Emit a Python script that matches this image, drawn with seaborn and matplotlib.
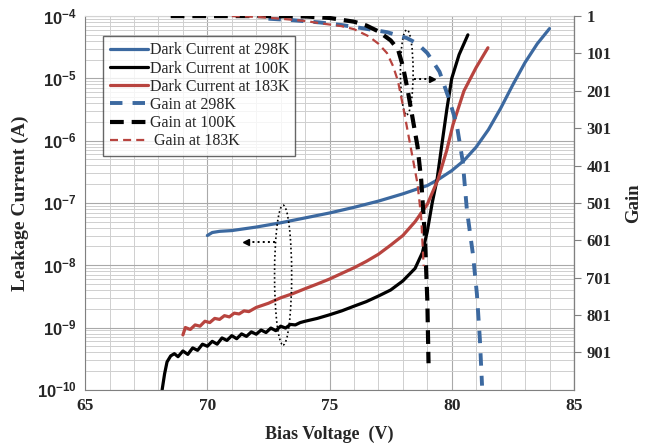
import numpy as np
import pandas as pd
import matplotlib
matplotlib.use('Agg')
import matplotlib.pyplot as plt
import seaborn as sns
from matplotlib.patches import Ellipse
from matplotlib.ticker import MultipleLocator, LogLocator, FixedLocator, FuncFormatter, NullFormatter

# Dark current (A) vs bias voltage (V)
v_298 = [70.0, 70.2, 70.5, 71, 72, 73, 74, 75, 76, 77, 78, 79, 79.5, 80, 80.5, 81, 81.5, 82, 82.5, 83, 83.5, 84]
i_298 = [3.0e-8, 3.35e-8, 3.5e-8, 3.6e-8, 4.1e-8, 4.8e-8, 5.75e-8, 6.9e-8, 8.5e-8, 1.07e-7, 1.4e-7, 1.9e-7,
         2.45e-7, 3.3e-7, 4.8e-7, 7.9e-7, 1.5e-6, 3.3e-6, 7.9e-6, 1.8e-5, 3.6e-5, 6.3e-5]

v_100 = [68.15, 68.25, 68.35, 68.5, 68.65, 68.8, 69.0, 69.2, 69.4, 69.6, 69.8, 70.0, 70.2, 70.4, 70.6, 70.8,
         71.0, 71.2, 71.4, 71.6, 71.8, 72.0, 72.2, 72.4, 72.6, 72.8, 73.0, 73.2, 73.4, 73.6, 73.8, 74.0,
         74.5, 75.0, 75.5, 76.0, 76.5, 77.0, 77.5, 78.0, 78.5, 78.8, 79.0, 79.2, 79.4, 79.6, 79.8, 80.0,
         80.3, 80.66]
i_100 = [1.0e-10, 1.8e-10, 2.8e-10, 3.5e-10, 3.8e-10, 3.4e-10, 4.2e-10, 3.7e-10, 4.7e-10, 4.3e-10, 5.4e-10,
         5.0e-10, 6.0e-10, 5.4e-10, 6.8e-10, 6.2e-10, 7.4e-10, 6.6e-10, 7.9e-10, 7.2e-10, 8.5e-10, 7.8e-10,
         9.1e-10, 8.3e-10, 9.8e-10, 8.9e-10, 1.05e-9, 9.8e-10, 1.12e-9, 1.1e-9, 1.2e-9, 1.26e-9, 1.4e-9,
         1.6e-9, 1.85e-9, 2.2e-9, 2.6e-9, 3.2e-9, 4.0e-9, 5.6e-9, 8.9e-9, 1.6e-8, 3.5e-8, 1.0e-7, 2.4e-7,
         8.9e-7, 3.2e-6, 1.0e-5, 2.4e-5, 5.0e-5]

v_183 = [69.0, 69.1, 69.3, 69.5, 69.7, 69.9, 70.1, 70.3, 70.5, 70.7, 70.9, 71.1, 71.3, 71.5, 71.7, 72.0,
         72.5, 73.0, 73.5, 74.0, 74.5, 75.0, 75.5, 76.0, 76.5, 77.0, 77.5, 78.0, 78.5, 79.0, 79.44, 79.8,
         80.05, 80.5, 81.0, 81.48]
i_183 = [7.6e-10, 1.0e-9, 9.3e-10, 1.1e-9, 1.05e-9, 1.26e-9, 1.2e-9, 1.4e-9, 1.35e-9, 1.55e-9, 1.48e-9,
         1.7e-9, 1.65e-9, 1.85e-9, 1.8e-9, 2.1e-9, 2.45e-9, 3.0e-9, 3.5e-9, 4.2e-9, 5.0e-9, 6.0e-9, 7.4e-9,
         9.1e-9, 1.15e-8, 1.5e-8, 2.1e-8, 3.0e-8, 5.0e-8, 9.5e-8, 2.4e-7, 7.1e-7, 1.8e-6, 6.3e-6, 1.5e-5,
         3.1e-5]

# Gain vs bias voltage
gv_298 = [72.5, 73.5, 74.6, 75.5, 76.5, 77.35, 78.17, 78.6, 79.0, 79.5, 79.9, 80.2, 80.45, 80.62, 80.87,
          81.03, 81.15, 81.24]
g_298 = [8, 12, 18, 25, 35, 44, 60, 75, 100, 150, 225, 290, 390, 520, 640, 745, 865, 990]

gv_100 = [68.5, 70, 72, 74, 75, 76, 76.5, 77, 77.5, 77.8, 78.0, 78.2, 78.4, 78.6, 78.75, 78.9, 79.0, 79.05]
g_100 = [1, 1, 1, 2, 6, 16, 26, 42, 66, 90, 135, 200, 275, 350, 440, 590, 760, 930]

gv_183 = [71, 72, 73, 74, 74.6, 75.5, 76, 76.6, 77, 77.35, 77.6, 77.8, 78.0, 78.2, 78.4, 78.6, 78.75, 78.85]
g_183 = [1, 3, 8, 14, 20, 28, 36, 55, 75, 100, 135, 175, 240, 310, 380, 450, 540, 670]

labels = ['Dark Current at 298K', 'Dark Current at 100K', 'Dark Current at 183K',
          'Gain at 298K', 'Gain at 100K', ' Gain at 183K']
gain_ticks = [1, 101, 201, 301, 401, 501, 601, 701, 801, 901]

BLUE = '#3c69a0'
RED = '#b8443f'

sns.set_style('white')
plt.rcParams['font.family'] = ['Liberation Serif', 'DejaVu Serif']
plt.rcParams['mathtext.fontset'] = 'custom'
plt.rcParams['mathtext.rm'] = 'Liberation Sans:bold'
plt.rcParams['mathtext.bf'] = 'Liberation Sans:bold'
plt.rcParams['mathtext.it'] = 'Liberation Sans:bold'

fig = plt.figure(figsize=(6.5, 4.47), dpi=100)
ax = fig.add_axes([0.131, 0.128, 0.752, 0.836])
ax2 = ax.twinx()

# dark current, left axis
for v, i, c, lab in [(v_298, i_298, BLUE, labels[0]), (v_100, i_100, 'black', labels[1]),
                     (v_183, i_183, RED, labels[2])]:
    df = pd.DataFrame({'V': v, 'I': i})
    sns.lineplot(data=df, x='V', y='I', ax=ax, color=c, lw=2.3, sort=False, estimator=None,
                 label=lab, legend=False)

# gain, right axis
for v, g, c, lw, dash, lab in [(gv_298, g_298, BLUE, 2.8, (3.2, 2.6), labels[3]),
                               (gv_100, g_100, 'black', 3.0, (3.3, 1.9), labels[4]),
                               (gv_183, g_183, RED, 1.6, (3.6, 2.3), labels[5])]:
    df = pd.DataFrame({'V': v, 'G': g})
    sns.lineplot(data=df, x='V', y='G', ax=ax2, color=c, lw=lw, sort=False, estimator=None,
                 label=lab, legend=False, linestyle=(0, dash))

ax.set_yscale('log')
ax.set_xlim(65, 85)
ax.set_ylim(1e-10, 1e-4)
ax2.set_ylim(1001, 1)

ax.xaxis.set_major_locator(MultipleLocator(5))
ax.xaxis.set_minor_locator(MultipleLocator(1))
ax.yaxis.set_major_locator(LogLocator(base=10, numticks=10))
ax.yaxis.set_minor_locator(LogLocator(base=10, subs=np.arange(2, 10), numticks=20))
ax.yaxis.set_minor_formatter(NullFormatter())
ax.yaxis.set_major_formatter(FuncFormatter(lambda y, p: r'$10^{%d}$' % round(np.log10(y))))

ax.grid(which='major', color='#a9a9a9', lw=0.8)
ax.grid(which='minor', color='#cfcfcf', lw=0.7)
ax.set_axisbelow(True)

ax2.yaxis.set_major_locator(FixedLocator(gain_ticks))
ax.tick_params(which='both', length=0, pad=6)
ax.tick_params(axis='y', labelsize=12)
ax.tick_params(axis='x', labelsize=12.5)
for t in ax.get_xticklabels():
    t.set_fontweight('bold')
ax2.tick_params(axis='y', length=5, direction='out', labelsize=12, pad=4, color='#808080')
for t in ax2.get_yticklabels():
    t.set_fontweight('bold')

for s in ['left', 'bottom']:
    ax.spines[s].set_color('#808080')
ax.spines['top'].set_color('#d3d3d3')
ax2.spines['top'].set_visible(False)
ax2.spines['right'].set_color('#808080')
ax2.spines['left'].set_visible(False)
ax2.spines['bottom'].set_visible(False)

ax.set_xlabel('Bias Voltage  (V)', fontsize=13, fontweight='bold', labelpad=8)
ax.set_ylabel('Leakage Current (A)', fontsize=14, fontweight='bold')
ax.yaxis.set_label_coords(-0.115, 0.5)
ax2.set_ylabel('Gain', fontsize=13.5, fontweight='bold', labelpad=10)

# annotations: ellipses and dotted arrows
ax2.add_patch(Ellipse((0.405, 0.307), 0.035, 0.374, transform=ax.transAxes, fill=False,
                      ls=':', lw=1.2, ec='black'))
ax2.plot([0.389, 0.333], [0.396, 0.396], transform=ax.transAxes, ls=':', lw=1.4, color='black')
ax2.plot([0.330], [0.396], transform=ax.transAxes, marker='<', ms=5, color='black')
ax2.add_patch(Ellipse((0.658, 0.85), 0.026, 0.227, transform=ax.transAxes, fill=False,
                      ls=':', lw=1.2, ec='black'))
ax2.plot([0.672, 0.706], [0.832, 0.832], transform=ax.transAxes, ls=':', lw=1.4, color='black')
ax2.plot([0.709], [0.832], transform=ax.transAxes, marker='>', ms=5, color='black')

handles = ax.get_lines()[:3] + ax2.get_lines()[:3]
leg = ax2.legend(handles, labels, loc='upper left', bbox_to_anchor=(0.037, 0.947), borderaxespad=0,
                 fontsize=11.5, frameon=True, fancybox=False, handlelength=2.4, handletextpad=0.1,
                 labelspacing=0.14, borderpad=0.4)
leg.get_frame().set_edgecolor('#404040')
leg.get_frame().set_linewidth(1.0)

fig.savefig('out.png', dpi=100)
